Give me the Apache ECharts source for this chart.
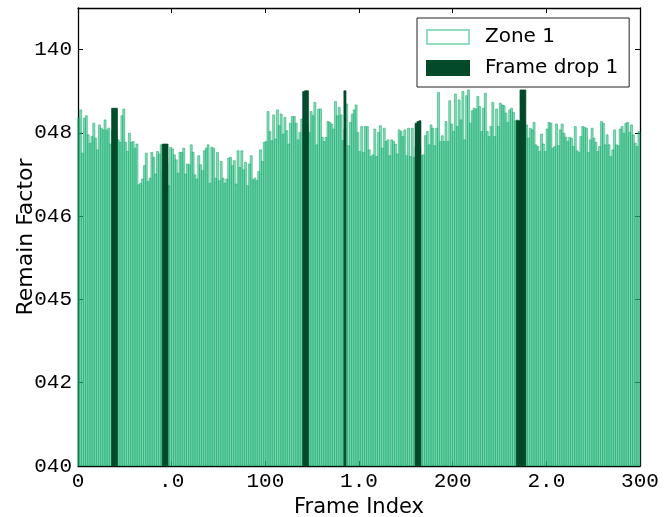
<!DOCTYPE html>
<html>
<head>
<meta charset="utf-8">
<script src="https://cdn.jsdelivr.net/npm/echarts@6/dist/echarts.min.js"></script>
<style>
html, body { margin: 0; padding: 0; background: #fff; }
#main { width: 670px; height: 517px; }
</style>
</head>
<body>
<div id="main"></div>
<script>
// tick labels as printed on the figure
var yTickLabels = ['040', '042', '045', '046', '048', '140'];
var xTickLabels = ['0', '.0', '100', '1.0', '200', '2.0', '300'];

// Zone 1, one value per frame (0..299), in y tick units
var zone1 = [
  4.18, 4.28, 3.76, 4.18, 4.21, 3.98, 3.88, 3.96, 4.12, 3.94,
  3.80, 4.10, 4.06, 4.04, 4.16, 4.04, 4.06, 3.87, 4.04, 4.04,
  4.04, 3.92, 3.89, 4.21, 4.29, 3.89, 3.78, 4.00, 3.89, 3.90,
  3.82, 3.87, 3.38, 3.40, 3.45, 3.61, 3.76, 3.42, 3.46, 3.77,
  3.71, 3.51, 3.78, 3.75, 3.86, 3.55, 3.52, 3.64, 3.37, 3.83,
  3.81, 3.74, 3.68, 3.52, 3.77, 3.77, 3.82, 3.51, 3.63, 3.62,
  3.86, 3.77, 3.50, 3.45, 3.73, 3.62, 3.55, 3.79, 3.82, 3.86,
  3.40, 3.83, 3.82, 3.46, 3.77, 3.43, 3.66, 3.46, 3.40, 3.45,
  3.70, 3.71, 3.61, 3.67, 3.39, 3.79, 3.59, 3.79, 3.56, 3.65,
  3.37, 3.63, 3.73, 3.44, 3.46, 3.43, 3.54, 3.80, 3.66, 3.89,
  3.90, 4.26, 4.02, 3.91, 4.22, 3.93, 4.28, 4.09, 4.23, 3.99,
  4.19, 4.03, 3.87, 4.12, 4.20, 4.20, 4.12, 3.92, 4.01, 4.17,
  4.10, 4.10, 4.10, 4.01, 4.26, 4.21, 4.37, 3.86, 4.29, 4.29,
  3.95, 3.90, 3.95, 4.14, 4.13, 4.11, 4.05, 4.38, 4.21, 4.31,
  4.22, 3.91, 4.05, 4.35, 3.85, 4.13, 4.23, 4.28, 4.34, 4.01,
  3.78, 4.08, 3.77, 4.08, 4.08, 3.80, 3.72, 3.74, 4.05, 3.72,
  4.01, 4.09, 3.82, 4.06, 3.90, 3.92, 3.73, 3.92, 3.90, 3.87,
  3.75, 4.04, 4.02, 3.96, 4.04, 3.73, 4.06, 3.72, 4.06, 3.71,
  3.84, 3.84, 3.84, 3.73, 3.74, 3.97, 4.02, 3.86, 4.10, 4.06,
  3.85, 4.06, 4.49, 3.90, 3.97, 3.90, 4.14, 3.90, 4.39, 4.11,
  4.02, 4.47, 4.08, 4.40, 4.16, 4.50, 3.92, 4.45, 4.52, 4.12,
  4.27, 4.30, 4.29, 4.44, 4.32, 4.02, 4.30, 4.48, 4.02, 3.96,
  4.08, 4.37, 3.96, 4.29, 4.08, 4.36, 4.34, 4.33, 4.24, 4.13,
  4.28, 4.30, 4.25, 4.15, 4.16, 4.05, 4.05, 4.05, 4.05, 4.10,
  3.94, 4.06, 4.04, 4.13, 3.86, 3.84, 3.78, 3.99, 3.87, 3.78,
  4.05, 4.13, 4.12, 3.82, 3.84, 4.11, 3.85, 4.04, 4.11, 4.00,
  3.95, 3.90, 3.95, 3.94, 3.84, 4.08, 3.79, 3.77, 3.96, 4.08,
  4.07, 4.06, 3.77, 3.92, 4.06, 3.94, 3.89, 3.78, 3.84, 4.14,
  4.12, 3.86, 3.98, 3.86, 3.72, 3.80, 4.04, 3.86, 3.85, 4.05,
  4.08, 4.00, 4.12, 4.13, 4.01, 4.10, 3.98, 3.88, 3.84, 4.02
];

// Frame drop 1: frames and values
var dropFrames = [18, 19, 20, 45, 46, 47, 120, 121, 122, 142, 180, 181, 182, 234, 235, 236, 237, 238];
var dropValues = [4.30, 4.30, 4.30, 3.87, 3.87, 3.87, 4.50, 4.51, 4.51, 4.51, 4.12, 4.14, 4.15, 4.15, 4.15, 4.52, 4.52, 4.52];

var tickFont = 'Liberation Mono';
var textFont = 'DejaVu Sans';

var chart = echarts.init(document.getElementById('main'));

var frameLine = {show: true, onZero: false, lineStyle: {color: '#000', width: 1.3}};
var inTick = {show: true, inside: true, length: 5, lineStyle: {color: '#000', width: 1}};

var option = {
    animation: false,
    backgroundColor: '#fff',
    grid: {left: 78, right: 30, top: 8, bottom: 51, outerBoundsMode: 'none', containLabel: false},
    legend: {
        orient: 'vertical',
        left: 417,
        top: 18,
        padding: [9, 11, 9, 9],
        itemGap: 11,
        itemWidth: 42,
        itemHeight: 14,
        borderColor: '#222',
        borderWidth: 1,
        backgroundColor: '#fff',
        textStyle: {fontFamily: textFont, fontSize: 20, color: '#000', padding: [0, 0, 0, 11]},
        data: [
            {name: 'Zone 1', icon: 'rect', itemStyle: {color: '#fff', borderColor: '#6fd3aa', borderWidth: 1.5}},
            {name: 'Frame drop 1', icon: 'rect', itemStyle: {color: '#034a2a'}}
        ]
    },
    xAxis: [
        {
            type: 'value', min: 0, max: 300, interval: 50, position: 'bottom',
            axisLine: frameLine, axisTick: inTick, splitLine: {show: false},
            axisLabel: {
                fontFamily: tickFont, fontSize: 21, color: '#000', margin: 5,
                formatter: function (v) { return xTickLabels[v / 50]; }
            },
            name: 'Frame Index', nameLocation: 'middle', nameGap: 31, nameMoveOverlap: false,
            nameTextStyle: {fontFamily: textFont, fontSize: 21, color: '#000'}
        },
        {
            type: 'value', min: 0, max: 300, interval: 50, position: 'top',
            axisLine: frameLine, axisTick: inTick, splitLine: {show: false},
            axisLabel: {show: false}
        }
    ],
    yAxis: [
        {
            type: 'value', min: 0, max: 5.5, interval: 1, position: 'left',
            axisLine: frameLine, axisTick: inTick, splitLine: {show: false},
            axisLabel: {
                fontFamily: tickFont, fontSize: 21, color: '#000', margin: 6,
                formatter: function (v) { return Number.isInteger(v) ? yTickLabels[v] : ''; }
            },
            name: 'Remain Factor', nameLocation: 'middle', nameGap: 41, nameMoveOverlap: false,
            nameTextStyle: {fontFamily: textFont, fontSize: 22, color: '#000'}
        },
        {
            type: 'value', min: 0, max: 5.5, interval: 1, position: 'right',
            axisLine: frameLine, axisTick: inTick, splitLine: {show: false},
            axisLabel: {show: false}
        }
    ],
    series: [
        {
            name: 'Zone 1',
            type: 'bar',
            xAxisIndex: 0, yAxisIndex: 0,
            barWidth: 2.6,
            barGap: '-100%',
            itemStyle: {color: 'rgba(45,188,128,0.55)', borderColor: 'rgba(20,172,110,0.9)', borderWidth: 0.6},
            data: zone1.map(function (v, i) { return [i + 0.5, v]; })
        },
        {
            name: 'Frame drop 1',
            type: 'bar',
            xAxisIndex: 0, yAxisIndex: 0,
            barWidth: 2.8,
            barGap: '-100%',
            itemStyle: {color: '#034a2a', borderColor: '#034a2a', borderWidth: 0.6},
            data: dropFrames.map(function (f, i) { return [f + 0.5, dropValues[i]]; })
        }
    ]
};

chart.setOption(option);
</script>
</body>
</html>
